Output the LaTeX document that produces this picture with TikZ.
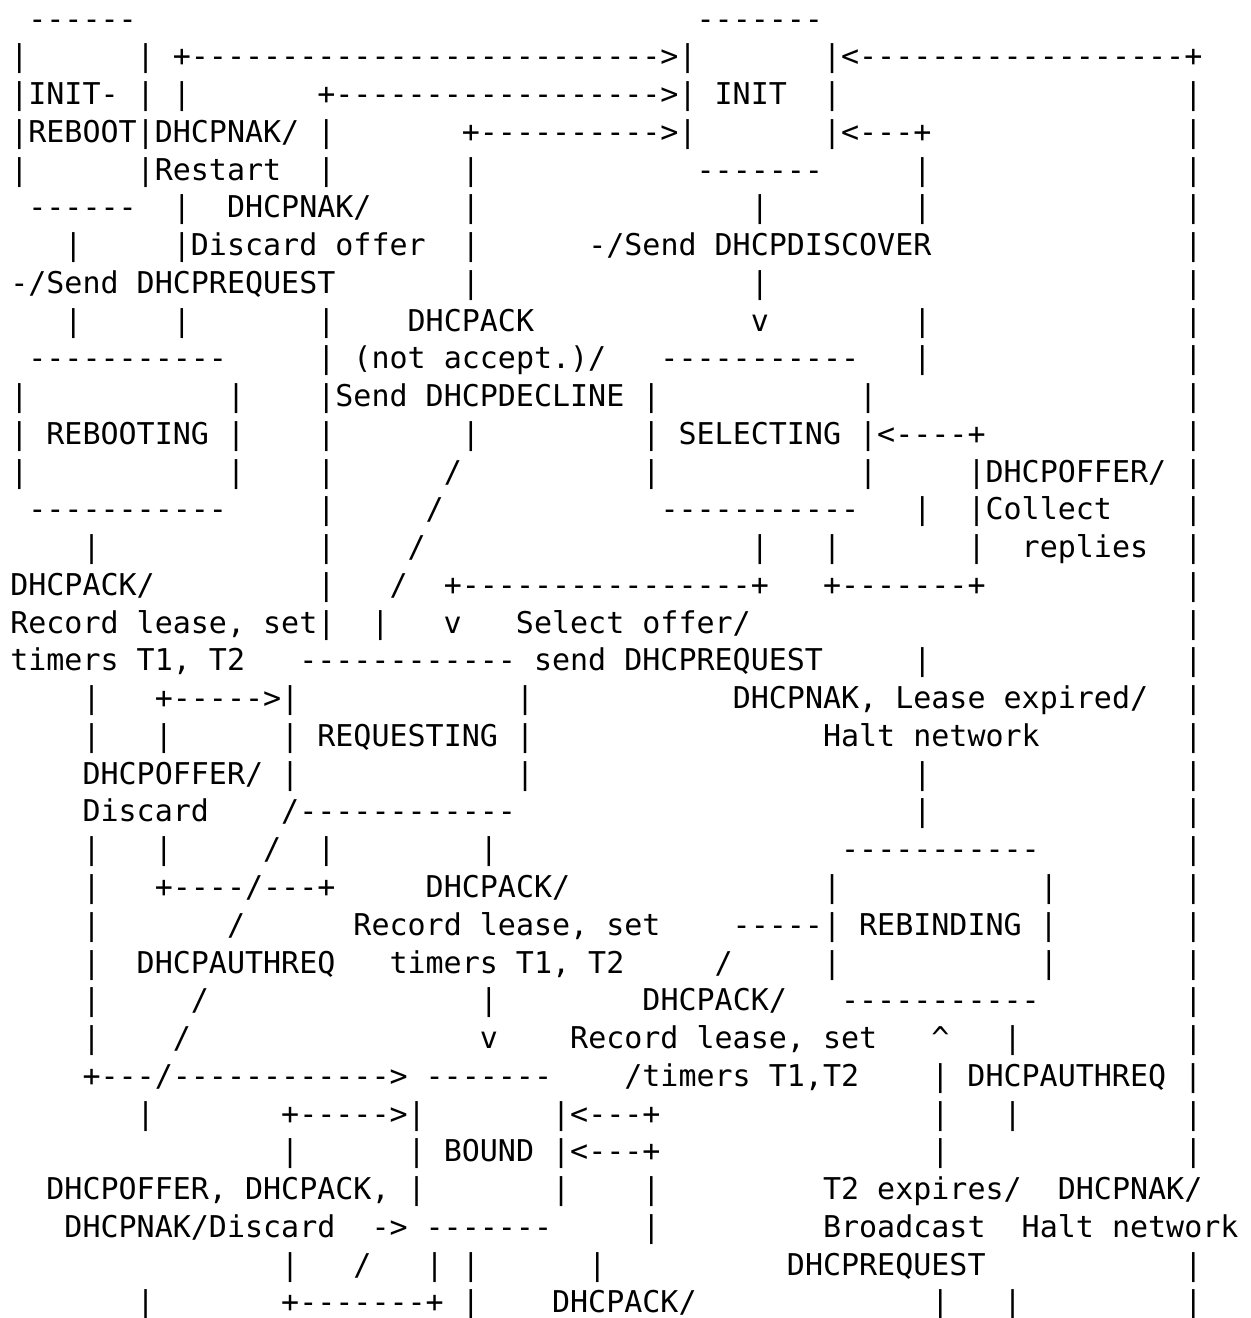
\documentclass[tikz,border=0pt]{standalone}
\usepackage{fontspec}
\setmonofont{DejaVu Sans Mono}
\usepackage{tikz}
\newlength\cw
\setlength\cw{9.0308pt}
\newcommand\asciifont{\ttfamily\fontsize{15pt}{18pt}\selectfont}
\newcommand\at[2]{\rlap{\hspace*{#1\cw}#2}}
\tikzset{
  row/.style={anchor=base west,inner sep=0pt,font=\asciifont}
}
\frenchspacing

\begin{document}
\begin{tikzpicture}[x=9.0308pt,y=-18.88pt]
  \useasboundingbox (-4.45pt,-4.38pt) rectangle (620.55pt,-663.38pt);
  \node[row] (r01) at (0,1) {\at{1}{------}\at{38}{-------}};
  \node[row] (r02) at (0,2) {\at{0}{|}\at{7}{|}\at{9}{+-------------------------->|}\at{45}{|<------------------+}};
  \node[row] (r03) at (0,3) {\at{0}{|INIT-}\at{7}{|}\at{9}{|}\at{17}{+------------------>|}\at{39}{INIT}\at{45}{|}\at{65}{|}};
  \node[row] (r04) at (0,4) {\at{0}{|REBOOT|DHCPNAK/}\at{17}{|}\at{25}{+---------->|}\at{45}{|<---+}\at{65}{|}};
  \node[row] (r05) at (0,5) {\at{0}{|}\at{7}{|Restart}\at{17}{|}\at{25}{|}\at{38}{-------}\at{50}{|}\at{65}{|}};
  \node[row] (r06) at (0,6) {\at{1}{------}\at{9}{|}\at{12}{DHCPNAK/}\at{25}{|}\at{41}{|}\at{50}{|}\at{65}{|}};
  \node[row] (r07) at (0,7) {\at{3}{|}\at{9}{|Discard offer}\at{25}{|}\at{32}{-/Send DHCPDISCOVER}\at{65}{|}};
  \node[row] (r08) at (0,8) {\at{0}{-/Send DHCPREQUEST}\at{25}{|}\at{41}{|}\at{65}{|}};
  \node[row] (r09) at (0,9) {\at{3}{|}\at{9}{|}\at{17}{|}\at{22}{DHCPACK}\at{41}{v}\at{50}{|}\at{65}{|}};
  \node[row] (r10) at (0,10) {\at{1}{-----------}\at{17}{|}\at{19}{(not accept.)/}\at{36}{-----------}\at{50}{|}\at{65}{|}};
  \node[row] (r11) at (0,11) {\at{0}{|}\at{12}{|}\at{17}{|Send DHCPDECLINE}\at{35}{|}\at{47}{|}\at{65}{|}};
  \node[row] (r12) at (0,12) {\at{0}{| REBOOTING |}\at{17}{|}\at{25}{|}\at{35}{| SELECTING |<----+}\at{65}{|}};
  \node[row] (r13) at (0,13) {\at{0}{|}\at{12}{|}\at{17}{|}\at{24}{/}\at{35}{|}\at{47}{|}\at{53}{|DHCPOFFER/}\at{65}{|}};
  \node[row] (r14) at (0,14) {\at{1}{-----------}\at{17}{|}\at{23}{/}\at{36}{-----------}\at{50}{|}\at{53}{|Collect}\at{65}{|}};
  \node[row] (r15) at (0,15) {\at{4}{|}\at{17}{|}\at{22}{/}\at{41}{|}\at{45}{|}\at{53}{|}\at{56}{replies}\at{65}{|}};
  \node[row] (r16) at (0,16) {\at{0}{DHCPACK/}\at{17}{|}\at{21}{/}\at{24}{+----------------+}\at{45}{+-------+}\at{65}{|}};
  \node[row] (r17) at (0,17) {\at{0}{Record lease, set|}\at{20}{|}\at{24}{v}\at{28}{Select offer/}\at{65}{|}};
  \node[row] (r18) at (0,18) {\at{0}{timers T1, T2}\at{16}{------------}\at{29}{send DHCPREQUEST}\at{50}{|}\at{65}{|}};
  \node[row] (r19) at (0,19) {\at{4}{|}\at{8}{+----->|}\at{28}{|}\at{40}{DHCPNAK, Lease expired/}\at{65}{|}};
  \node[row] (r20) at (0,20) {\at{4}{|}\at{8}{|}\at{15}{| REQUESTING |}\at{45}{Halt network}\at{65}{|}};
  \node[row] (r21) at (0,21) {\at{4}{DHCPOFFER/ |}\at{28}{|}\at{50}{|}\at{65}{|}};
  \node[row] (r22) at (0,22) {\at{4}{Discard}\at{15}{/------------}\at{50}{|}\at{65}{|}};
  \node[row] (r23) at (0,23) {\at{4}{|}\at{8}{|}\at{14}{/}\at{17}{|}\at{26}{|}\at{46}{-----------}\at{65}{|}};
  \node[row] (r24) at (0,24) {\at{4}{|}\at{8}{+----/---+}\at{23}{DHCPACK/}\at{45}{|}\at{57}{|}\at{65}{|}};
  \node[row] (r25) at (0,25) {\at{4}{|}\at{12}{/}\at{19}{Record lease, set}\at{40}{-----| REBINDING |}\at{65}{|}};
  \node[row] (r26) at (0,26) {\at{4}{|}\at{7}{DHCPAUTHREQ}\at{21}{timers T1, T2}\at{39}{/}\at{45}{|}\at{57}{|}\at{65}{|}};
  \node[row] (r27) at (0,27) {\at{4}{|}\at{10}{/}\at{26}{|}\at{35}{DHCPACK/}\at{46}{-----------}\at{65}{|}};
  \node[row] (r28) at (0,28) {\at{4}{|}\at{9}{/}\at{26}{v}\at{31}{Record lease, set}\at{51}{\textasciicircum}\at{55}{|}\at{65}{|}};
  \node[row] (r29) at (0,29) {\at{4}{+---/------------>}\at{23}{-------}\at{34}{/timers T1,T2}\at{51}{| DHCPAUTHREQ |}};
  \node[row] (r30) at (0,30) {\at{7}{|}\at{15}{+----->|}\at{30}{|<---+}\at{51}{|}\at{55}{|}\at{65}{|}};
  \node[row] (r31) at (0,31) {\at{15}{|}\at{22}{| BOUND |<---+}\at{51}{|}\at{65}{|}};
  \node[row] (r32) at (0,32) {\at{2}{DHCPOFFER, DHCPACK, |}\at{30}{|}\at{35}{|}\at{45}{T2 expires/}\at{58}{DHCPNAK/}};
  \node[row] (r33) at (0,33) {\at{3}{DHCPNAK/Discard}\at{20}{-> -------}\at{35}{|}\at{45}{Broadcast}\at{56}{Halt network}};
  \node[row] (r34) at (0,34) {\at{15}{|}\at{19}{/}\at{23}{| |}\at{32}{|}\at{43}{DHCPREQUEST}\at{65}{|}};
  \node[row] (r35) at (0,35) {\at{7}{|}\at{15}{+-------+ |}\at{30}{DHCPACK/}\at{51}{|}\at{55}{|}\at{65}{|}};
\end{tikzpicture}
\end{document}
